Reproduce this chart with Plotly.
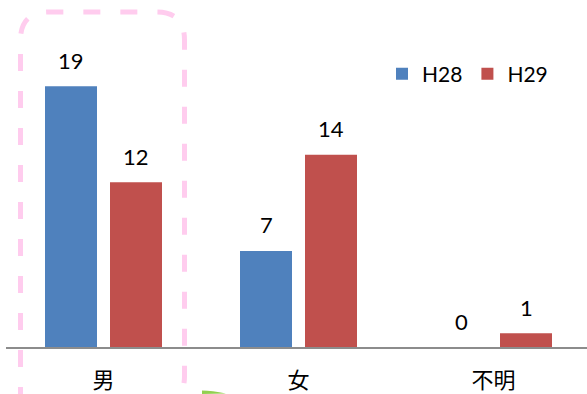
import plotly.graph_objects as go

# Data
categories = ["男", "女", "不明"]
h28 = [19, 7, 0]
h29 = [12, 14, 1]
series_names = ["H28", "H29"]

W, H = 587, 394
ML, MR, MT, MB = 6, 0, 10, 47
PW, PH = W - ML - MR, H - MT - MB
BLUE, RED = "#4F81BD", "#C0504D"
NUM_FONT = dict(family="Lato, 'Open Sans', sans-serif", size=22, color="#000000")


def px(x):
    return (x - ML) / PW


def py(y):
    return (H - MB - y) / PH


x_idx = list(range(len(categories)))

fig = go.Figure()
fig.add_trace(go.Bar(x=x_idx, y=h28, name=series_names[0], marker=dict(color=BLUE, line=dict(width=0))))
fig.add_trace(go.Bar(x=x_idx, y=h29, name=series_names[1], marker=dict(color=RED, line=dict(width=0))))

# value labels above each bar
for vals, off in ((h28, -1), (h29, 1)):
    for i, v in enumerate(vals):
        fig.add_annotation(x=i + off * 1 / 6, y=v, xref="x", yref="y", text=str(v),
                           showarrow=False, yanchor="middle", yshift=26, font=NUM_FONT)

# dashed rounded frame highlighting the first group
L, R, T, B, r = 20.5, 184.5, 12, 404, 28
frame = (f"M{px(L)},{py(B)} L{px(L)},{py(T + r)} Q{px(L)},{py(T)} {px(L + r)},{py(T)} "
         f"L{px(R - r)},{py(T)} Q{px(R)},{py(T)} {px(R)},{py(T + r)} "
         f"L{px(R)},{py(B - r)} Q{px(R)},{py(B)} {px(R - r)},{py(B)} L{px(L)},{py(B)}")
fig.add_shape(type="path", path=frame, xref="paper", yref="paper",
              line=dict(color="#FFCCEE", width=5, dash="17px,20px"), layer="above")

# small green arrow tip at the bottom edge
tip = (f"M{px(202)},{py(390.5)} Q{px(212)},{py(390.5)} {px(226)},{py(393.5)} "
       f"L{px(202)},{py(394)} Z")
fig.add_shape(type="path", path=tip, xref="paper", yref="paper",
              fillcolor="#92D050", line=dict(width=0), layer="above")

fig.update_layout(
    width=W, height=H,
    margin=dict(l=ML, r=MR, t=MT, b=MB, autoexpand=False),
    paper_bgcolor="white", plot_bgcolor="white",
    barmode="group", bargap=1 / 3, bargroupgap=0.2,
    showlegend=True,
    legend=dict(orientation="h", x=px(382), y=py(74), xanchor="left", yanchor="middle",
                font=dict(family="Lato, 'Open Sans', sans-serif", size=21, color="#000000"),
                itemwidth=30, bgcolor="rgba(0,0,0,0)", traceorder="normal"),
    xaxis=dict(range=[-0.5, -0.5 + PW / 195], tickvals=x_idx, ticktext=categories,
               showline=True, linecolor="#8C8C8C", linewidth=2, showgrid=False, zeroline=False,
               ticks="outside", ticklen=13, tickcolor="rgba(0,0,0,0)", automargin=False,
               tickfont=dict(family="'Noto Sans CJK JP', sans-serif", size=22, color="#000000"),
               fixedrange=True),
    yaxis=dict(range=[0, PH / 13.73], visible=False, fixedrange=True, automargin=False),
)

fig.write_html("out.html")
